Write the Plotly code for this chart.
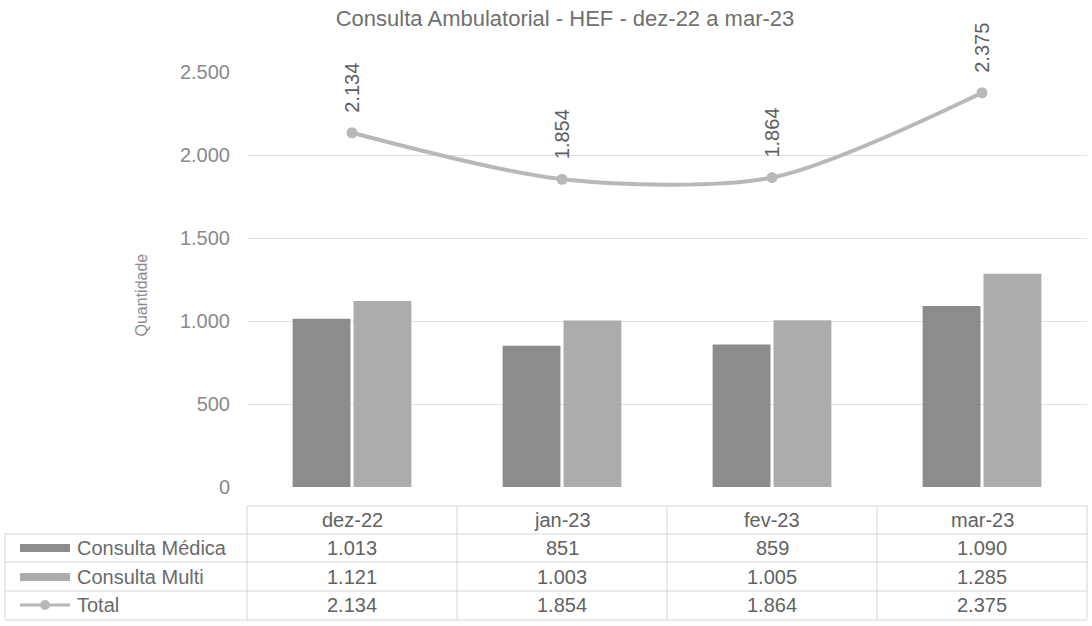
import plotly.graph_objects as go

categories = ["dez-22", "jan-23", "fev-23", "mar-23"]
consulta_medica = [1013, 851, 859, 1090]
consulta_multi = [1121, 1003, 1005, 1285]
total = [2134, 1854, 1864, 2375]
series_names = ["Consulta Médica", "Consulta Multi", "Total"]
title_text = "Consulta Ambulatorial - HEF - dez-22 a mar-23"
y_title = "Quantidade"

W, H = 1092, 626
L, R, T, B = 247, 5, 72, 139
PW, PH = W - L - R, H - T - B

def px_x(x):
    return (x - L) / PW

def px_y(y):
    return (H - B - y) / PH

FONT = "Liberation Sans, Arial, sans-serif"
C_MED = "#8c8c8c"
C_MUL = "#acacac"
C_TOT = "#b8b8b8"
TXT = "#6a6a6a"

def fmt(v):
    return f"{v:,}".replace(",", ".")

fig = go.Figure()
fig.add_trace(go.Bar(x=categories, y=consulta_medica, name=series_names[0],
                     marker=dict(color=C_MED, line=dict(width=0))))
fig.add_trace(go.Bar(x=categories, y=consulta_multi, name=series_names[1],
                     marker=dict(color=C_MUL, line=dict(width=0))))
fig.add_trace(go.Scatter(x=categories, y=total, name=series_names[2], mode="lines+markers",
                         line=dict(color=C_TOT, width=4, shape="spline", smoothing=0.8),
                         marker=dict(color=C_TOT, size=11), cliponaxis=False))

ann = []
# rotated data labels for Total
for c, v in zip(categories, total):
    ann.append(dict(x=c, y=v, xref="x", yref="y", text=fmt(v), textangle=-90,
                    showarrow=False, yanchor="bottom", yshift=18,
                    font=dict(family=FONT, size=20, color="#5e5e5e")))

# data table
row_y = [520, 548, 577, 605]
rows = [categories, [fmt(v) for v in consulta_medica],
        [fmt(v) for v in consulta_multi], [fmt(v) for v in total]]
for ri, row in enumerate(rows):
    for c, t in zip(categories, row):
        ann.append(dict(x=c, y=px_y(row_y[ri]), xref="x", yref="paper", text=t,
                        showarrow=False, yanchor="middle",
                        font=dict(family=FONT, size=20, color="#626262")))
for i, name in enumerate(series_names):
    ann.append(dict(x=px_x(75), y=px_y(row_y[i + 1]), xref="paper", yref="paper",
                    text=name, showarrow=False, xanchor="left", yanchor="middle",
                    font=dict(family=FONT, size=20, color=TXT)))

ann.append(dict(x=px_x(130), y=px_y(295), xref="paper", yref="paper", text=y_title,
                textangle=-90, showarrow=False,
                font=dict(family=FONT, size=16, color="#8a8a8a")))

shapes = []
line_c = "#d6d6d6"
hl = [506, 534, 562, 591, 620]
for yy in hl:
    x0 = 5 if yy > 520 else L
    shapes.append(dict(type="line", xref="paper", yref="paper", x0=px_x(x0), x1=px_x(W - 5),
                       y0=px_y(yy), y1=px_y(yy), line=dict(color=line_c, width=1)))
for xx in [L, L + PW / 4, L + PW / 2, L + 3 * PW / 4, W - 5]:
    shapes.append(dict(type="line", xref="paper", yref="paper", x0=px_x(xx), x1=px_x(xx),
                       y0=px_y(hl[0]), y1=px_y(hl[-1]), line=dict(color=line_c, width=1)))
shapes.append(dict(type="line", xref="paper", yref="paper", x0=px_x(5), x1=px_x(5),
                   y0=px_y(hl[1]), y1=px_y(hl[-1]), line=dict(color=line_c, width=1)))
# legend keys
shapes.append(dict(type="rect", xref="paper", yref="paper", x0=px_x(20), x1=px_x(70),
                   y0=px_y(552), y1=px_y(544), fillcolor=C_MED, line=dict(width=0)))
shapes.append(dict(type="rect", xref="paper", yref="paper", x0=px_x(20), x1=px_x(70),
                   y0=px_y(581), y1=px_y(573), fillcolor=C_MUL, line=dict(width=0)))
shapes.append(dict(type="line", xref="paper", yref="paper", x0=px_x(20), x1=px_x(70),
                   y0=px_y(605), y1=px_y(605), line=dict(color=C_TOT, width=3)))
shapes.append(dict(type="circle", xref="paper", yref="paper", x0=px_x(40), x1=px_x(50),
                   y0=px_y(610), y1=px_y(600), fillcolor=C_TOT, line=dict(width=0)))

fig.update_layout(
    width=W, height=H,
    margin=dict(l=L, r=R, t=T, b=B),
    paper_bgcolor="white", plot_bgcolor="white",
    separators=",.",
    barmode="group", bargap=0.42, bargroupgap=0.05,
    showlegend=False,
    title=dict(text=title_text, x=565 / W, xanchor="center", y=1 - 18 / H, yanchor="middle",
               font=dict(family=FONT, size=22, color="#707070")),
    xaxis=dict(showticklabels=False, showgrid=False, zeroline=False, showline=False, ticks=""),
    yaxis=dict(range=[0, 2500], dtick=500, tickformat=",d", showgrid=True,
               gridcolor="#e2e2e2", gridwidth=1, zeroline=False, showline=False,
               ticks="", ticklabelstandoff=16,
               tickfont=dict(family=FONT, size=20, color="#8a8a8a")),
    annotations=ann, shapes=shapes,
    font=dict(family=FONT),
)

fig.write_html("out.html", config={"displayModeBar": False},
               post_script="document.body.style.margin='0';document.body.style.padding='0';window.dispatchEvent(new Event('resize'));")
